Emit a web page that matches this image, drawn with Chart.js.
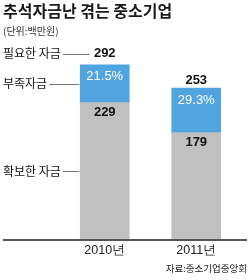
<!DOCTYPE html>
<html>
<head>
<meta charset="utf-8">
<script src="https://cdn.jsdelivr.net/npm/chart.js@4"></script>
<style>
  html, body { margin: 0; padding: 0; background: #fff; }
  #wrap { width: 250px; height: 280px; position: relative; }
</style>
</head>
<body>
<div id="wrap"><canvas id="fundChart" width="250" height="280"></canvas></div>
<script>
const years = ['2010년', '2011년'];
const secured = [229, 179];     // 확보한 자금
const shortfall = [63, 74];     // 부족자금
const needed = [292, 253];      // 필요한 자금
const shortRate = ['21.5%', '29.3%'];

const KR = '"Noto Sans CJK KR", "Noto Sans", sans-serif';
const NUM = '"Liberation Sans", Arial, sans-serif';

// titles, callouts and value labels
const labelPlugin = {
    id: 'labels',
    afterDatasetsDraw(chart) {
        const ctx = chart.ctx;
        const x = chart.scales.x, y = chart.scales.y;
        const area = chart.chartArea;
        ctx.save();

        ctx.fillStyle = '#1a1a1a';
        ctx.textBaseline = 'middle';
        ctx.textAlign = 'left';
        ctx.font = 'bold 16px ' + KR;
        ctx.fillText('추석자금난 겪는 중소기업', 3, 11);
        ctx.fillStyle = '#333';
        ctx.font = '10px ' + KR;
        ctx.fillText('(단위:백만원)', 3, 31);

        // baseline
        ctx.strokeStyle = '#555';
        ctx.lineWidth = 2;
        ctx.beginPath();
        ctx.moveTo(3, area.bottom);
        ctx.lineTo(247, area.bottom);
        ctx.stroke();

        const barMeta = chart.getDatasetMeta(1);
        years.forEach((yr, i) => {
            const cx = x.getPixelForValue(i);
            const topY = y.getPixelForValue(needed[i]);
            const midY = y.getPixelForValue(secured[i]);

            ctx.textAlign = 'center';
            ctx.fillStyle = '#111';
            ctx.font = 'bold 13px ' + NUM;
            ctx.fillText(String(needed[i]), cx, topY - (i === 0 ? 11 : 8));
            ctx.fillText(String(secured[i]), cx, midY + 10);

            ctx.fillStyle = '#fff';
            ctx.font = '13px ' + NUM;
            ctx.fillText(shortRate[i], cx, topY + 12);

            ctx.fillStyle = '#222';
            ctx.font = '12.5px ' + NUM;
            ctx.fillText(yr, cx, area.bottom + 11);
        });

        // callouts on the left of the first bar
        const b0 = barMeta.data[0];
        const left = b0.x - b0.width / 2;
        const x0 = x.getPixelForValue(0);
        const top0 = y.getPixelForValue(needed[0]);
        const mid0 = y.getPixelForValue(secured[0]);
        const callouts = [
            ['필요한 자금', top0 - 11, x0 - 15],
            ['부족자금', (top0 + mid0) / 2, left - 1],
            ['확보한 자금', (mid0 + area.bottom) / 2, left - 1]
        ];
        ctx.font = '12px ' + KR;
        ctx.textAlign = 'left';
        ctx.strokeStyle = '#777';
        ctx.lineWidth = 1;
        callouts.forEach(([txt, ly, endX]) => {
            ctx.fillStyle = '#111';
            ctx.fillText(txt, 3, ly);
            const w = ctx.measureText(txt).width;
            ctx.beginPath();
            ctx.moveTo(3 + w + 2, Math.round(ly) + 0.5);
            ctx.lineTo(endX, Math.round(ly) + 0.5);
            ctx.stroke();
        });

        ctx.fillStyle = '#222';
        ctx.textAlign = 'right';
        ctx.font = '9.5px ' + KR;
        ctx.fillText('자료:중소기업중앙회', 247, 268);
        ctx.restore();
    }
};

const ctx = document.getElementById('fundChart').getContext('2d');
new Chart(ctx, {
    type: 'bar',
    data: {
        labels: years,
        datasets: [{
            label: '확보한 자금',
            data: secured,
            backgroundColor: '#c0c0c0',
            barThickness: 49
        }, {
            label: '부족자금',
            data: shortfall,
            backgroundColor: '#50a4df',
            barThickness: 49
        }]
    },
    options: {
        responsive: false,
        animation: false,
        layout: { padding: { top: 30, bottom: 40, left: 59, right: 8 } },
        plugins: { legend: { display: false }, tooltip: { enabled: false } },
        scales: {
            x: { stacked: true, display: false },
            y: { stacked: true, display: false, min: 0, max: 350 }
        }
    },
    plugins: [labelPlugin]
});
</script>
</body>
</html>
